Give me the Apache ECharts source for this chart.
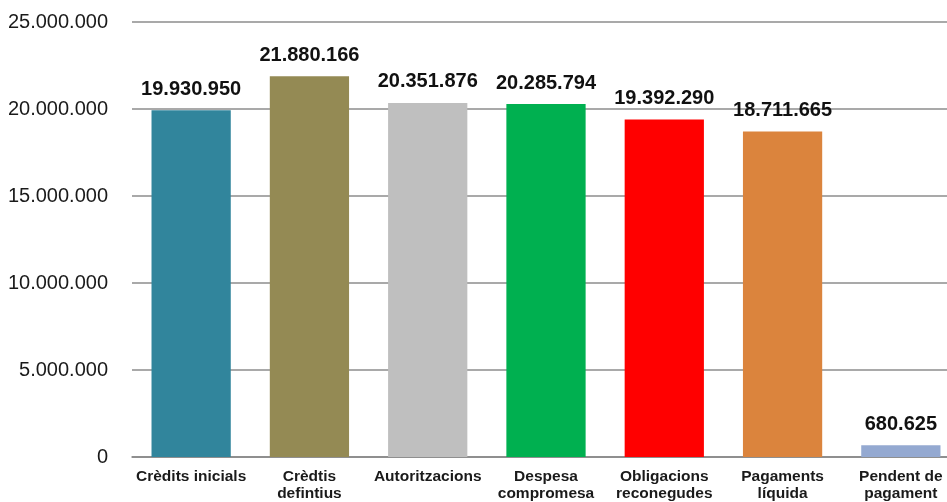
<!DOCTYPE html>
<html>
<head>
<meta charset="utf-8">
<script src="https://cdn.jsdelivr.net/npm/echarts@6/dist/echarts.min.js"></script>
<style>
  html, body { margin: 0; padding: 0; background: #fff; }
  .wrap { width: 947px; height: 502px; overflow: hidden; position: relative; }
  /* the plot area runs past the right edge in the original, so the chart is a bit wider than the frame */
  #chart { position: absolute; left: 0; top: 0; width: 960px; height: 502px; }
</style>
</head>
<body>
<div class="wrap"><div id="chart"></div></div>
<script>
  // categories and values
  const categories = ['Crèdits inicials', 'Crèdtis\ndefintius', 'Autoritzacions', 'Despesa\ncompromesa',
    'Obligacions\nreconegudes', 'Pagaments\nlíquida', 'Pendent de\npagament'];
  const values = [19930950, 21880166, 20351876, 20285794, 19392290, 18711665, 680625];
  const barColors = ['#31859C', '#948A54', '#BFBFBF', '#00B050', '#FF0000', '#DB843D', '#94A9D1'];

  // 1234567 -> "1.234.567"
  function fmt(v) {
    return String(Math.round(v)).replace(/\B(?=(\d{3})+(?!\d))/g, '.');
  }

  const chart = echarts.init(document.getElementById('chart'));
  chart.setOption({
    animation: false,
    grid: { left: 132, top: 22, right: 0, bottom: 39, containLabel: false },
    xAxis: {
      type: 'category',
      data: categories,
      axisLine: { lineStyle: { color: '#868686', width: 1.5 } },
      axisTick: { show: false },
      axisLabel: {
        interval: 0,
        margin: 11,
        color: '#1a1a1a',
        fontFamily: 'Liberation Sans',
        fontWeight: 'bold',
        fontSize: 15.5,
        lineHeight: 17
      }
    },
    yAxis: {
      type: 'value',
      min: 0,
      max: 25000000,
      interval: 5000000,
      axisLine: { show: false },
      axisTick: { show: false },
      splitLine: { lineStyle: { color: '#8c8c8c', width: 1.5 } },
      axisLabel: {
        margin: 24,
        color: '#1a1a1a',
        fontFamily: 'Liberation Sans',
        fontSize: 20,
        formatter: fmt
      }
    },
    series: [{
      type: 'bar',
      barWidth: '67%',
      data: values.map((v, i) => ({ value: v, itemStyle: { color: barColors[i] } })),
      label: {
        show: true,
        position: 'top',
        distance: 11,
        color: '#111',
        fontFamily: 'Liberation Sans',
        fontWeight: 'bold',
        fontSize: 20,
        formatter: p => fmt(p.value)
      }
    }]
  });
</script>
</body>
</html>
